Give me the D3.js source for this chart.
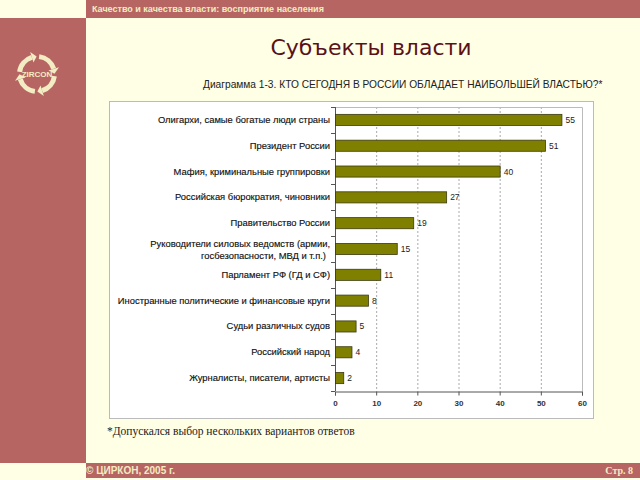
<!DOCTYPE html>
<html><head><meta charset="utf-8">
<script src="https://cdn.jsdelivr.net/npm/d3@7/dist/d3.min.js"></script>
<style>html,body{margin:0;padding:0;background:#FFFFE6;}svg{display:block;}</style>
</head><body>
<script>
const categories = [
  "Олигархи, самые богатые люди страны",
  "Президент России",
  "Мафия, криминальные группировки",
  "Российская бюрократия, чиновники",
  "Правительство России",
  "Руководители силовых ведомств (армии,|госбезопасности, МВД и т.п.)",
  "Парламент РФ (ГД и СФ)",
  "Иностранные политические и финансовые круги",
  "Судьи различных судов",
  "Российский народ",
  "Журналисты, писатели, артисты"
];
const values = [55, 51, 40, 27, 19, 15, 11, 8, 5, 4, 2];
const xTicks = [0, 10, 20, 30, 40, 50, 60];

const W = 640, H = 480;
const svg = d3.select("body").append("svg").attr("width", W).attr("height", H);
const red = "#B76563", cream = "#FFFFE6", light = "#F2EDC2";

// background & frame
svg.append("rect").attr("width", W).attr("height", H).attr("fill", cream);
svg.append("rect").attr("x", 0).attr("y", 18).attr("width", 86).attr("height", 445).attr("fill", red);
svg.append("rect").attr("x", 86).attr("y", 0).attr("width", 554).attr("height", 18).attr("fill", red);
svg.append("rect").attr("x", 86).attr("y", 463).attr("width", 554).attr("height", 15).attr("fill", red);

svg.append("text").attr("x", 92).attr("y", 12).attr("fill", light)
  .attr("font-family", "Liberation Sans, Arial, sans-serif").attr("font-size", 9).attr("font-weight", "bold")
  .text("Качество и качества власти: восприятие населения");
svg.append("text").attr("x", 86).attr("y", 474).attr("fill", light)
  .attr("font-family", "Liberation Sans, Arial, sans-serif").attr("font-size", 10).attr("font-weight", "bold")
  .text("© ЦИРКОН, 2005 г.");
svg.append("text").attr("x", 633).attr("y", 474).attr("fill", light).attr("text-anchor", "end")
  .attr("font-family", "Liberation Serif, serif").attr("font-size", 10).attr("font-weight", "bold")
  .text("Стр. 8");

// logo
const lg = svg.append("g").attr("transform", "translate(37,74)");
const arc = d3.arc().innerRadius(15).outerRadius(20);
[0, 1, 2, 3].forEach(i => {
  const a0 = i * Math.PI / 2 + 0.12, a1 = a0 + Math.PI / 2 - 0.42;
  lg.append("path").attr("d", arc({startAngle: a0, endAngle: a1})).attr("fill", light);
  const ah = a1, r0 = 12, r1 = 23, tip = a1 + 0.28;
  const p = (r, a) => [r * Math.sin(a), -r * Math.cos(a)];
  lg.append("path").attr("d", "M" + p(r0, ah) + "L" + p(r1, ah) + "L" + p(17.5, tip) + "Z").attr("fill", light);
});
lg.append("text").attr("y", 3).attr("text-anchor", "middle").attr("fill", light)
  .attr("font-family", "Liberation Sans, Arial, sans-serif").attr("font-size", 8).attr("font-weight", "bold")
  .text("ZIRCON");

// title
svg.append("text").attr("x", 371).attr("y", 55).attr("text-anchor", "middle").attr("fill", "#5A1218")
  .attr("font-family", "DejaVu Sans, sans-serif").attr("font-size", 22)
  .text("Субъекты власти");
svg.append("text").attr("x", 203).attr("y", 88).attr("fill", "#222")
  .attr("font-family", "Liberation Sans, Arial, sans-serif").attr("font-size", 10.2)
  .text("Диаграмма 1-3. КТО СЕГОДНЯ В РОССИИ ОБЛАДАЕТ НАИБОЛЬШЕЙ ВЛАСТЬЮ?*");

// chart panel
svg.append("rect").attr("x", 109.5).attr("y", 101.5).attr("width", 484).attr("height", 317)
  .attr("fill", "#fff").attr("stroke", "#bbb");

const x = d3.scaleLinear().domain([0, 60]).range([335, 582]);
const y = d3.scaleBand().domain(categories).range([107, 391]).paddingInner(0.57).paddingOuter(0.285);
const band = d3.scaleBand().domain(categories).range([107, 391]);

// gridlines
svg.append("g").selectAll("line").data(xTicks.slice(1, -1)).join("line")
  .attr("x1", d => x(d) + 0.5).attr("x2", d => x(d) + 0.5).attr("y1", 107).attr("y2", 391)
  .attr("stroke", "#aaa").attr("stroke-dasharray", "2,2").attr("stroke-width", 1);
svg.append("path").attr("d", `M335,107.5H582.5V391`).attr("fill", "none").attr("stroke", "#bbb");

// x axis
const xa = svg.append("g").attr("transform", "translate(0,391.5)")
  .call(d3.axisBottom(x).tickValues(xTicks).tickSize(4).tickPadding(5));
xa.select(".domain").attr("stroke", "#555");
xa.selectAll(".tick line").attr("stroke", "#555");
xa.selectAll("text").attr("font-family", "Liberation Sans, Arial, sans-serif").attr("font-size", 8)
  .attr("font-weight", "bold").attr("fill", "#333");

// y axis line + ticks at band boundaries
svg.append("line").attr("x1", 335.5).attr("x2", 335.5).attr("y1", 107).attr("y2", 391).attr("stroke", "#555");
const bounds = categories.map(c => band(c)).concat([391]);
svg.append("g").selectAll("line").data(bounds).join("line")
  .attr("x1", 331).attr("x2", 335).attr("y1", d => Math.round(d) + 0.5).attr("y2", d => Math.round(d) + 0.5)
  .attr("stroke", "#555");

// bars
svg.append("g").selectAll("rect").data(values).join("rect")
  .attr("x", x(0) + 0.5).attr("y", (d, i) => y(categories[i]))
  .attr("width", d => x(d) - x(0)).attr("height", y.bandwidth())
  .attr("fill", "#808000").attr("stroke", "#3a3a10").attr("stroke-width", 0.8);

// value labels
svg.append("g").selectAll("text").data(values).join("text")
  .attr("x", d => x(d) + 4).attr("y", (d, i) => y(categories[i]) + y.bandwidth() / 2 + 3)
  .attr("font-family", "Liberation Sans, Arial, sans-serif").attr("font-size", 8.5).attr("fill", "#222")
  .text(d => d);

// category labels
const cl = svg.append("g").selectAll("text").data(categories).join("text")
  .attr("text-anchor", "end").attr("x", 330)
  .attr("y", c => band(c) + band.bandwidth() / 2 + 3)
  .attr("font-family", "Liberation Sans, Arial, sans-serif").attr("font-size", 9.4).attr("fill", "#111")
  .attr("stroke", "#111").attr("stroke-width", 0.15);
cl.each(function(c) {
  const parts = c.split("|");
  const t = d3.select(this);
  if (parts.length === 1) { t.text(c); return; }
  parts.forEach((p, i) => t.append("tspan").attr("x", i === 0 ? 330 : 326).attr("dy", i === 0 ? -5 : 12).text(p));
});

// footnote
svg.append("text").attr("x", 107).attr("y", 435).attr("fill", "#222")
  .attr("font-family", "Liberation Serif, serif").attr("font-size", 11.5)
  .text("*Допускался выбор нескольких вариантов ответов");
</script>
</body></html>
